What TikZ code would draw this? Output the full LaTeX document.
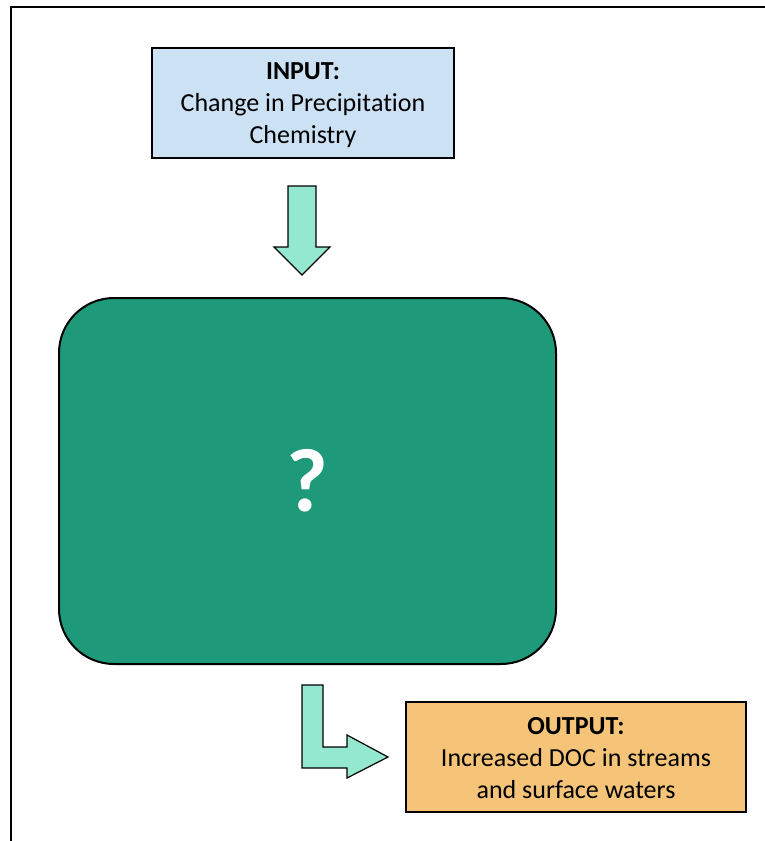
\documentclass[tikz,border=0pt]{standalone}
\usepackage{fontspec}
\setmainfont[RawFeature={-liga;-clig;-calt;-dlig}]{Carlito}
\definecolor{inblue}{RGB}{204,225,244}
\definecolor{outorange}{RGB}{245,196,120}
\definecolor{arrowaqua}{RGB}{148,232,208}
\definecolor{boxgreen}{RGB}{30,154,122}
\begin{document}
\begin{tikzpicture}[x=1pt,y=-1pt,
  infobox/.style={draw=black,line width=2pt,inner sep=0pt},
  infotext/.style={align=center,inner sep=0pt,font=\fontsize{26}{32}\selectfont},
  blockarrow/.style={draw=black,line width=1.2pt,fill=arrowaqua,line join=miter}]
\useasboundingbox (0,0) rectangle (765,841);
\draw[line width=2pt] (11,841) -- (11,7) -- (765,7);
\node[infobox,fill=inblue,minimum width=302pt,minimum height=110pt] (in) at (303,103) {};
\node[infotext] (intext) at ([yshift=-2.5pt]in.center)
  {\textbf{INPUT:}\\Change in Precipit\kern0pt at\kern0pt ion\\Chemistry};
\node[draw=black,line width=2pt,fill=boxgreen,rounded corners=55pt,minimum width=497pt,minimum height=366pt,
  text=white,font=\bfseries\fontsize{90}{90}\selectfont] (mid) at (307.5,481) {?};
\node[infobox,fill=outorange,minimum width=340pt,minimum height=110pt] (out) at (576,757) {};
\node[infotext] (outtext) at ([yshift=-1.5pt]out.center)
  {\textbf{OUTPUT:}\\Increased DOC in streams\\and surface waters};
\draw[blockarrow] (288,186) -- (316,186) -- (316,247) -- (330,247) -- (302,275) -- (274,247) -- (288,247) -- cycle;
\draw[blockarrow] (302,685) -- (323,685) -- (323,747) -- (347,747) -- (347,735) -- (388,757) -- (347,778) -- (347,768) -- (302,768) -- cycle;
\end{tikzpicture}
\end{document}
